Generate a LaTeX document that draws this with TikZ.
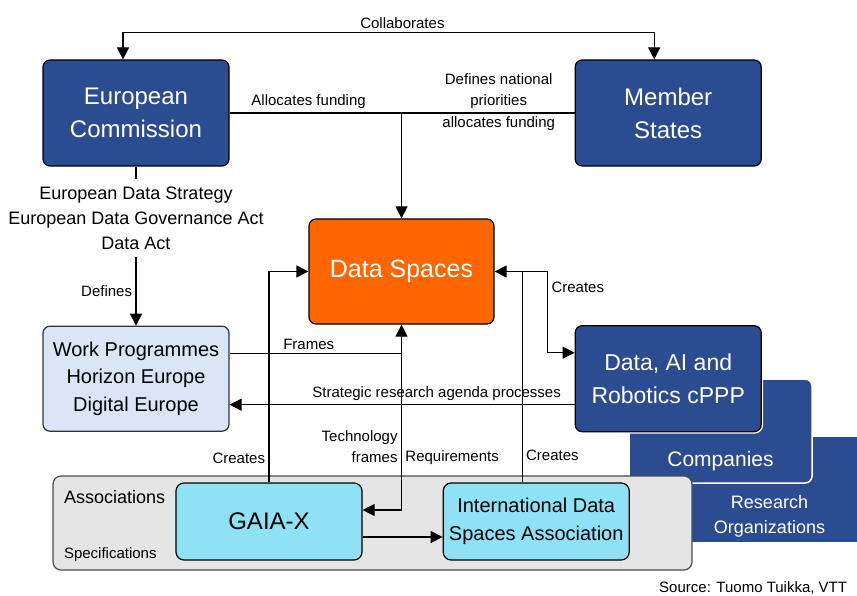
\documentclass[tikz,border=0pt]{standalone}
\usepackage{fontspec}
\setmainfont{Liberation Sans}
\usetikzlibrary{arrows.meta}
\usetikzlibrary{positioning}

\definecolor{ecblue}{HTML}{2B4C90}
\definecolor{dsorange}{HTML}{FF6600}
\definecolor{wpblue}{HTML}{DAE6F6}
\definecolor{gxcyan}{HTML}{8FE1F6}
\definecolor{assocgray}{HTML}{E5E5E5}

\newcommand{\bigtxt}{\fontsize{24}{33}\selectfont}
\newcommand{\midtxt}{\fontsize{20}{27.5}\selectfont}
\newcommand{\edstxt}{\fontsize{18}{25}\selectfont}
\newcommand{\smalltxt}{\fontsize{15}{21}\selectfont}

\tikzset{
bluebox/.style={rectangle,rounded corners=7pt,
minimum width=186pt,minimum height=106pt,inner sep=2pt,
draw=black,fill=ecblue,text=white,font=\bigtxt,align=center},
wpbox/.style={rectangle,rounded corners=7pt,
minimum width=186pt,minimum height=105pt,inner sep=2pt,
draw=black!80,fill=wpblue,font=\midtxt,align=center},
dsbox/.style={rectangle,rounded corners=7pt,
minimum width=185pt,minimum height=105pt,inner sep=2pt,
draw=black,fill=dsorange,text=white,font=\fontsize{25}{33}\selectfont},
partnerbox/.style={rectangle,rounded corners=7pt,
fill=ecblue,draw=white,line width=1.5pt},
assocbox/.style={rectangle,rounded corners=8pt,
minimum width=639pt,minimum height=94pt,
draw=black!70,fill=assocgray},
gxbox/.style={rectangle,rounded corners=8pt,
minimum width=186pt,minimum height=77pt,inner sep=2pt,
draw=black,fill=gxcyan,font=\bigtxt,align=center},
edsbox/.style={inner sep=7pt,font=\edstxt,align=center}
}

\begin{document}
\begin{tikzpicture}[x=1pt,y=-1pt,line width=1.2pt,font=\smalltxt,
>={Triangle[length=12pt,width=12pt]}]
\useasboundingbox (0,0) rectangle (857,596);

\node[bluebox] (EC) at (136,113) {European\\Commission};
\node[bluebox,right=345pt of EC] (MS) {Member\\States};
\node[edsbox] (EDS) at (136,218) {European Data Strategy\\European Data Governance Act\\Data Act};
\node[wpbox,below=159pt of EC] (WP) {Work Programmes\\Horizon Europe\\Digital Europe};
\node[dsbox] (DS) at (401.5,271.5) {Data Spaces};

% partners, back to front
\node[partnerbox,draw=none,sharp corners,minimum width=175pt,minimum height=105pt,
label={[font=\edstxt,text=white,anchor=south,yshift=2pt,align=center]south:{Research\\Organizations}}] (RO) at (769.5,489.5) {};
\node[partnerbox,minimum width=183pt,minimum height=104pt,
label={[font=\fontsize{21}{29}\selectfont,text=white,anchor=south,yshift=9pt]south:Companies}] (COMP) at (720.5,431) {};
\node[bluebox,preaction={draw=white,line width=4pt},font=\fontsize{23}{33}\selectfont,
right=345pt of WP] (CPPP) {Data, AI and\\Robotics cPPP};

\node[assocbox] (ASSOC) at (372.5,523) {};
\node[anchor=north west,inner sep=0pt,font=\edstxt] (ASSOCT) at ([xshift=11pt,yshift=-14pt]ASSOC.north west) {Associations};
\node[anchor=base west,inner sep=0pt] (SPEC) at ([xshift=11pt,yshift=12pt]ASSOC.south west) {Specifications};
\node[gxbox] (GX) at (269,521.5) {GAIA-X};
\node[gxbox,font=\midtxt,right=80pt of GX] (IDSA) {International Data\\Spaces Association};

\draw[<->] ([xshift=-13pt]EC.north) -- ++(0,-27) -| node[pos=0.263,above]{Collaborates} ([xshift=-14pt]MS.north);
\draw (EC.east) -- node[pos=0.229,above]{Allocates funding}
node[pos=0.78,above,align=center]{Defines national\\priorities}
node[pos=0.78,below]{allocates funding} (MS.west);
\draw[->] (EC.east -| DS.north) -- (DS.north);
\draw (EC) -- (EDS);
\draw[->] (EDS) -- node[left]{Defines} (WP);
\draw ([yshift=25.5pt]WP.east) -- node[pos=0.46,above]{Frames} ([yshift=25.5pt]WP.east -| DS.south);
\draw[<->] (DS.south) |- node[pos=0.329,left,align=right]{Technology\\frames}
node[pos=0.358,right]{Requirements} ([yshift=11.5pt]GX.east);
\draw[->] ([yshift=-26pt]CPPP.west) -- node[pos=0.4,above]{Strategic research agenda processes} ([yshift=-26pt]CPPP.west -| WP.east);
\draw[->] (GX.north) |- node[pos=0.057,left]{Creates} (DS.west);
\draw[<->] (DS.east) -- ++(53,0) |- node[pos=0.1,right]{Creates} ([yshift=26pt]CPPP.west);
\draw ([xshift=-14pt]IDSA.north) -- node[pos=0.127,right]{Creates} ([xshift=-14pt]IDSA.north |- DS.east);
\draw[->] ([yshift=-15.5pt]GX.east) -- ([yshift=-15.5pt]GX.east -| IDSA.west);

\node[anchor=base east] (SRC) at (851,592) {Source: Tuomo Tuikka, VTT};
\end{tikzpicture}
\end{document}
